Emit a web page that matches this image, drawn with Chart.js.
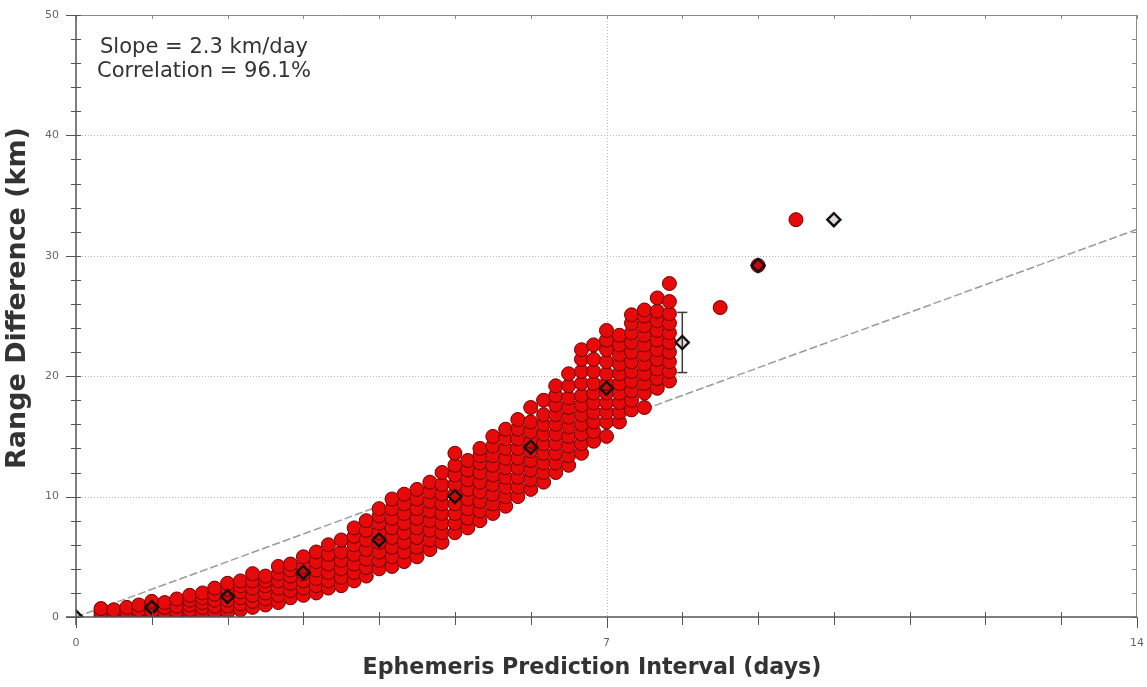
<!DOCTYPE html>
<html>
<head>
<meta charset="utf-8">
<script src="https://cdn.jsdelivr.net/npm/chart.js@4.4.1/dist/chart.umd.min.js"></script>
<style>
  html, body { margin: 0; padding: 0; background: #fff; }
  canvas { display: block; }
</style>
</head>
<body>
<canvas id="rangeChart" width="1147" height="687"></canvas>
<script>
// prediction interval of each column of samples (days)
const columnDays = [
    0.33, 0.5, 0.67, 0.83, 1.0, 1.17, 1.33, 1.5, 1.67, 1.83,
    2.0, 2.17, 2.33, 2.5, 2.67, 2.83, 3.0, 3.17, 3.33, 3.5,
    3.67, 3.83, 4.0, 4.17, 4.33, 4.5, 4.67, 4.83, 5.0, 5.17,
    5.33, 5.5, 5.67, 5.83, 6.0, 6.17, 6.33, 6.5, 6.67, 6.83,
    7.0, 7.17, 7.33, 7.5, 7.67, 7.83
];
// range differences (km)
const columnValues = [
    [0.1, 0.4, 0.7],
    [0.0, 0.3, 0.6],
    [0.1, 0.4, 0.8],
    [0.0, 0.3, 0.6, 1.0],
    [0.1, 0.5, 0.9, 1.3],
    [0.0, 0.4, 0.8, 1.2],
    [0.1, 0.5, 0.9, 1.5],
    [0.2, 0.6, 1.0, 1.4, 1.8],
    [0.3, 0.8, 1.2, 1.6, 2.0],
    [0.4, 0.9, 1.4, 1.9, 2.4],
    [0.4, 0.9, 1.4, 1.9, 2.3, 2.8],
    [0.6, 1.1, 1.6, 2.1, 2.6, 3.0],
    [0.8, 1.3, 1.8, 2.4, 3.0, 3.6],
    [1.0, 1.5, 2.0, 2.6, 3.0, 3.4],
    [1.2, 1.8, 2.4, 3.0, 3.6, 4.2],
    [1.6, 2.2, 2.8, 3.4, 3.9, 4.4],
    [1.8, 2.4, 3.0, 3.6, 4.2, 5.0],
    [2.0, 2.6, 3.2, 3.9, 4.6, 5.4],
    [2.4, 3.0, 3.7, 4.4, 5.2, 6.0],
    [2.6, 3.3, 4.0, 4.7, 5.4, 6.4],
    [3.0, 3.7, 4.4, 5.2, 6.0, 6.7, 7.4],
    [3.4, 4.1, 4.8, 5.6, 6.4, 7.2, 8.0],
    [4.0, 4.7, 5.4, 6.2, 7.0, 7.8, 8.4, 9.0],
    [4.2, 5.0, 5.8, 6.6, 7.4, 8.2, 9.0, 9.8],
    [4.6, 5.4, 6.2, 7.0, 7.8, 8.6, 9.4, 10.2],
    [5.0, 5.8, 6.6, 7.4, 8.2, 9.0, 9.8, 10.6],
    [5.6, 6.4, 7.2, 8.0, 8.8, 9.6, 10.4, 11.2],
    [6.2, 7.0, 7.8, 8.6, 9.4, 10.2, 11.0, 12.0],
    [7.0, 7.8, 8.6, 9.4, 10.2, 11.0, 11.8, 12.6, 13.6],
    [7.4, 8.2, 9.0, 9.8, 10.6, 11.4, 12.2, 13.0],
    [8.0, 8.8, 9.6, 10.4, 11.2, 12.0, 12.8, 13.4, 14.0],
    [8.6, 9.4, 10.2, 11.0, 11.8, 12.6, 13.4, 14.2, 15.0],
    [9.2, 10.0, 10.8, 11.6, 12.4, 13.2, 14.0, 14.8, 15.6],
    [10.0, 10.8, 11.6, 12.4, 13.2, 14.0, 14.8, 15.6, 16.4],
    [10.6, 11.4, 12.2, 13.0, 13.8, 14.6, 15.4, 16.2, 17.4],
    [11.2, 12.0, 12.8, 13.6, 14.4, 15.2, 16.0, 16.8, 18.0],
    [12.0, 12.8, 13.6, 14.4, 15.2, 16.0, 16.8, 17.6, 18.4, 19.2],
    [12.6, 13.4, 14.2, 15.0, 15.8, 16.6, 17.4, 18.2, 19.2, 20.2],
    [13.6, 14.4, 15.2, 16.0, 16.8, 17.6, 18.4, 19.4, 20.4, 21.4, 22.2],
    [14.6, 15.4, 16.2, 17.0, 17.8, 18.6, 19.4, 20.4, 21.4, 22.6],
    [15.0, 16.2, 17.0, 17.8, 18.6, 19.4, 20.2, 21.2, 22.2, 23.0, 23.8],
    [16.2, 17.0, 17.8, 18.6, 19.4, 20.2, 21.0, 21.8, 22.6, 23.4],
    [17.2, 18.0, 18.8, 19.6, 20.4, 21.2, 22.0, 22.8, 23.6, 24.4, 25.1],
    [17.4, 18.6, 19.4, 20.2, 21.0, 21.8, 22.6, 23.4, 24.2, 25.0, 25.5],
    [19.0, 19.8, 20.6, 21.4, 22.2, 23.0, 23.8, 24.6, 25.4, 26.5],
    [19.6, 20.4, 21.2, 22.0, 22.8, 23.6, 24.4, 25.2, 26.2, 27.7]
];
// the few long interval samples
const outlierDays = [8.5, 9.0, 9.5];
const outlierValues = [25.7, 29.2, 33.0];

// daily means and spread (diamonds with bars)
const meanDays = [0, 1, 2, 3, 4, 5, 6, 7, 8, 9, 10];
const meanValues = [0, 0.8, 1.7, 3.7, 6.4, 10.0, 14.1, 19.0, 22.8, 29.2, 33.0];
const meanSpread = [0, 0.4, 0.7, 1.0, 1.4, 1.8, 2.0, 2.4, 2.5, 0, 0];

// regression line
const fitDays = [0, 14];
const fitValues = [0, 32.2];

const xTickLabels = [0, 7, 14];
const yTickLabels = [0, 10, 20, 30, 40, 50];
const noteLines = ['Slope = 2.3 km/day', 'Correlation = 96.1%'];

const samplePoints = [];
columnDays.forEach((d, i) => {
    columnValues[i].forEach(v => samplePoints.push({ x: d, y: v }));
});
outlierDays.forEach((d, i) => samplePoints.push({ x: d, y: outlierValues[i] }));

const meanPoints = meanDays.map((d, i) => ({ x: d, y: meanValues[i] }));
const fitPoints = fitDays.map((d, i) => ({ x: d, y: fitValues[i] }));

const FONT = '"DejaVu Sans", Verdana, sans-serif';

// fit a string to a width by picking the font size
function fitFont(ctx, text, width, weight) {
    ctx.font = weight + ' 20px ' + FONT;
    const size = 20 * width / ctx.measureText(text).width;
    return weight + ' ' + size.toFixed(2) + 'px ' + FONT;
}

function seg(ctx, x1, y1, x2, y2) {
    ctx.beginPath();
    ctx.moveTo(x1, y1);
    ctx.lineTo(x2, y2);
    ctx.stroke();
}

const framePlugin = {
    id: 'frame',
    beforeDatasetsDraw(chart) {
        const { ctx, chartArea: a, scales: { x, y } } = chart;
        ctx.save();
        // dotted grid
        ctx.strokeStyle = '#b8b8b8';
        ctx.lineWidth = 1;
        ctx.setLineDash([1, 2]);
        yTickLabels.slice(1, -1).forEach(v => {
            const py = Math.round(y.getPixelForValue(v)) + 0.5;
            seg(ctx, a.left, py, a.right, py);
        });
        xTickLabels.slice(1, -1).forEach(v => {
            const px = Math.round(x.getPixelForValue(v)) + 0.5;
            seg(ctx, px, a.top, px, a.bottom);
        });
        ctx.setLineDash([]);
        // error bars
        ctx.strokeStyle = '#3a3a3a';
        ctx.lineWidth = 1.5;
        meanDays.forEach((d, i) => {
            if (!meanSpread[i]) return;
            const px = x.getPixelForValue(d);
            const top = y.getPixelForValue(meanValues[i] + meanSpread[i]);
            const bot = y.getPixelForValue(meanValues[i] - meanSpread[i]);
            seg(ctx, px, top, px, bot);
            seg(ctx, px - 5, top, px + 5, top);
            seg(ctx, px - 5, bot, px + 5, bot);
        });
        ctx.restore();
    },
    afterDraw(chart) {
        const { ctx, chartArea: a, scales: { x, y } } = chart;
        ctx.save();
        // top and right frame
        ctx.strokeStyle = '#8a8a8a';
        ctx.lineWidth = 1;
        seg(ctx, a.left, a.top + 0.5, a.right, a.top + 0.5);
        seg(ctx, a.right - 0.5, a.top, a.right - 0.5, a.bottom);
        // ticks
        for (let v = 0; v <= 50; v += 2) {
            const py = Math.round(y.getPixelForValue(v)) + 0.5;
            const major = v % 10 === 0;
            ctx.strokeStyle = '#555';
            seg(ctx, a.left - (major ? 10 : 5), py, a.left + 5, py);
            ctx.strokeStyle = '#8a8a8a';
            seg(ctx, a.right - 5, py, a.right, py);
        }
        for (let v = 0; v <= 14; v += 1) {
            const px = Math.round(x.getPixelForValue(v)) + 0.5;
            const major = xTickLabels.includes(v);
            ctx.strokeStyle = '#555';
            seg(ctx, px, major ? a.bottom : a.bottom - 5, px, a.bottom + (major ? 11 : 8));
            ctx.strokeStyle = '#8a8a8a';
            seg(ctx, px, a.top, px, a.top + 4);
        }
        // axes
        ctx.strokeStyle = '#555';
        ctx.lineWidth = 1.5;
        seg(ctx, a.left, a.top, a.left, a.bottom + 8);
        seg(ctx, a.left - 10, a.bottom, a.right, a.bottom);

        // tick labels
        ctx.fillStyle = '#666';
        ctx.font = '11px ' + FONT;
        ctx.textAlign = 'right';
        ctx.textBaseline = 'middle';
        yTickLabels.forEach(v => ctx.fillText(String(v), a.left - 17, y.getPixelForValue(v)));
        ctx.textAlign = 'center';
        xTickLabels.forEach(v => ctx.fillText(String(v), x.getPixelForValue(v), a.bottom + 26));

        // axis titles
        ctx.fillStyle = '#333';
        const xTitle = 'Ephemeris Prediction Interval (days)';
        ctx.font = fitFont(ctx, xTitle, 459, 'bold');
        ctx.fillText(xTitle, 592, 668);
        const yTitle = 'Range Difference (km)';
        ctx.save();
        ctx.translate(18, 298);
        ctx.rotate(-Math.PI / 2);
        ctx.font = fitFont(ctx, yTitle, 342, 'bold');
        ctx.fillText(yTitle, 0, 0);
        ctx.restore();

        // statistics note
        ctx.fillStyle = '#333';
        ctx.font = fitFont(ctx, noteLines[1], 214, 'normal');
        ctx.fillText(noteLines[0], 204, 48);
        ctx.fillText(noteLines[1], 204, 72);
        ctx.restore();
    }
};

new Chart(document.getElementById('rangeChart'), {
    type: 'scatter',
    data: {
        datasets: [{
            label: 'Daily mean',
            data: meanPoints,
            pointStyle: 'rectRot',
            pointRadius: 6.5,
            borderWidth: 2.4,
            borderColor: '#111',
            backgroundColor: 'rgba(60,0,0,0.15)'
        }, {
            label: 'Samples',
            data: samplePoints,
            pointRadius: 7,
            borderWidth: 1,
            borderColor: '#6e0000',
            backgroundColor: '#e60a0a'
        }, {
            label: 'Fit',
            type: 'line',
            data: fitPoints,
            showLine: true,
            pointRadius: 0,
            borderColor: '#9a9a9a',
            borderWidth: 1.5,
            borderDash: [8, 3]
        }]
    },
    options: {
        responsive: false,
        animation: false,
        layout: { padding: { left: 0, right: 10, top: 15, bottom: 0 } },
        plugins: {
            legend: { display: false },
            tooltip: { enabled: false }
        },
        scales: {
            x: {
                type: 'linear',
                min: 0,
                max: 14,
                grid: { display: false, drawTicks: false },
                border: { display: false },
                ticks: { display: false },
                afterFit: s => { s.height = 70; }
            },
            y: {
                min: 0,
                max: 50,
                grid: { display: false, drawTicks: false },
                border: { display: false },
                ticks: { display: false },
                afterFit: s => { s.width = 76; }
            }
        }
    },
    plugins: [framePlugin]
});
</script>
</body>
</html>
